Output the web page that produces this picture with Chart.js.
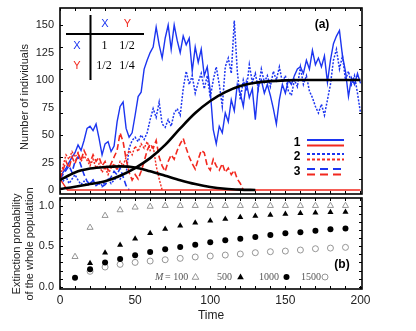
<!DOCTYPE html>
<html>
<head>
<meta charset="utf-8">
<script src="https://cdn.jsdelivr.net/npm/chart.js@4.4.0/dist/chart.umd.min.js"></script>
<style>
  html, body { margin: 0; padding: 0; background: #fff; }
  #wrap { position: relative; width: 416px; height: 331px; }
  #top { position: absolute; left: 0; top: 0; }
  #bot { position: absolute; left: 0; top: 170px; }
</style>
</head>
<body>
<div id="wrap">
  <canvas id="top" width="416" height="196" style="width:416px;height:196px"></canvas>
  <canvas id="bot" width="416" height="161" style="width:416px;height:161px"></canvas>
</div>
<script>
// time grid of the stochastic runs
const stepT = [0,2,4,6,8,10,12,14,16,18,20,22,24,26,28,30,32,34,36,38,40,42,44,46,48,50,52,54,56,58,
  60,62,64,66,68,70,72,74,76,78,80,82,84,86,88,90,92,94,96,98,100,102,104,106,108,110,112,114,116,118,
  120,122,124,126,128,130,132,134,136,138,140,142,144,146,148,150,152,154,156,158,160,162,164,166,168,170,
  172,174,176,178,180,182,184,186,188,190,192,194,196,198,200];

// run 1 (solid): X survives, Y dies at once
const x1 = [10,16,20,25,30,34,41,36,45,56, 58,54,60,47,32,42,44,35,40,62,
  76,80,56,48,52,68,85,89,110,118, 125,130,148,132,120,138,150,128,150,136,
  125,140,132,138,108,130,116,128,104,112, 90,55,42,58,52,70,62,82,72,96,
  88,76,98,84,92,64,95,100,88,96, 86,74,60,82,96,88,100,96,104,110,
  112,106,118,110,127,114,120,112,122,98, 118,133,140,145,122,108,85,102,96,106, 97];
const y1T = [0,2,4,5,200];
const y1 = [10,6,2,0,0];

// run 2 (dotted)
const x2 = [10,8,12,6,10,14,9,5,8,4, 6,9,5,8,4,7,10,6,9,12,
  10,15,14,38,45,48,44,50,46,52, 64,74,66,80,60,57,64,58,70,74,
  68,92,108,96,104,88,98,106,92,104, 84,100,112,96,76,112,120,106,154,108,
  82,100,90,114,98,106,92,110,98,104, 94,108,100,112,98,104,90,86,100,94,
  112,96,104,90,84,76,70,78,68,82, 96,118,128,110,122,100,108,96,104,88, 70];
const y2 = [10,22,32,28,35,30,34,26,31,27, 22,28,20,24,16,21,14,20,24,18,
  26,22,30,36,32,40,35,42,38,44, 36,40,22,10,0];

// run 3 (dashed): X dies first, then Y
const x3 = [10,14,18,22,16,26,30,22,14,8,5,9,4,6,3,5,8,12,17,14,20,12,4,0];
const y3 = [10,18,26,20,30,24,33,27,36,30, 25,32,26,30,22,26,18,24,30,36,
  52,44,28,16,9,14,10,17,26,36, 42,38,45,30,22,17,26,32,28,36,
  42,47,38,30,24,19,28,36,34,22, 18,28,22,18,24,16,20,14,18,10, 6,0];

// deterministic solution
const detT = [0,10,20,30,40,50,60,70,80,90,100,110,120,130,140,150,160,170,180,190,200];
const detX = [1,3,5.5,8,13,20,29,41,56,70,81,89,94.5,97.5,99,99.7,100,100,100,100,100];
const detY = [9,16,19.5,21,21.5,20.5,17,13,9,5.5,2.8,1.2,0.4,0];

// panel (b): extinction probability
const probT = [10,20,30,40,50,60,70,80,90,100,110,120,130,140,150,160,170,180,190];
const p100 = [0.37,0.73,0.877,0.947,0.98,0.99,1,1,1,1,1,1,1,1,1,1,1,1,1];
const p500 = [null,0.29,0.42,0.515,0.593,0.659,0.712,0.753,0.79,0.815,0.836,0.856,0.873,0.885,0.897,0.906,0.914,0.918,0.922];
const p1000 = [0.11,0.215,0.30,0.342,0.387,0.428,0.461,0.49,0.519,0.548,0.573,0.593,0.614,0.638,0.659,0.671,0.691,0.708,0.72];
const p1500 = [null,0.19,0.243,0.276,0.30,0.317,0.333,0.35,0.367,0.379,0.391,0.404,0.42,0.432,0.44,0.453,0.469,0.477,0.486];

const topYTicks = [0,25,50,75,100,125,150];
const botYTicks = [0,0.5,1];
const xTicks = [0,50,100,150,200];
const xMinor = [0,10,20,30,40,50,60,70,80,90,100,110,120,130,140,150,160,170,180,190,200];
const topYMinor = [10,30,50,70,90,110,130,150];
const botYMinor = [0,0.1,0.2,0.3,0.4,0.5,0.6,0.7,0.8,0.9,1];

const BLUE = '#1c35f0';
const RED = '#f2281e';
const GREY = '#8a8a8a';
const SANS = '"Liberation Sans", Arial, sans-serif';
const SERIF = '"Liberation Serif", "Times New Roman", serif';

Chart.defaults.font.family = SANS;

const pts = (ts, vs) => vs.map((v, i) => ({ x: ts[i], y: v })).filter(p => p.y !== null);

function frameAndTicks(chart, yMinor) {
  const { ctx, chartArea: a, scales } = chart;
  ctx.save();
  ctx.strokeStyle = '#000';
  ctx.lineWidth = 1;
  ctx.beginPath();
  xMinor.forEach(v => {
    const px = Math.round(scales.x.getPixelForValue(v)) + 0.5;
    ctx.moveTo(px, a.top); ctx.lineTo(px, a.top + 3);
    ctx.moveTo(px, a.bottom); ctx.lineTo(px, a.bottom - 3);
  });
  yMinor.forEach(v => {
    const py = Math.round(scales.y.getPixelForValue(v)) + 0.5;
    ctx.moveTo(a.left, py); ctx.lineTo(a.left + 3, py);
    ctx.moveTo(a.right, py); ctx.lineTo(a.right - 3, py);
  });
  ctx.stroke();
  ctx.lineWidth = 1.6;
  ctx.strokeRect(a.left, a.top, a.right - a.left, a.bottom - a.top);
  ctx.restore();
}

function sideTitle(ctx, lines, x, y) {
  ctx.save();
  ctx.translate(x, y);
  ctx.rotate(-Math.PI / 2);
  ctx.textAlign = 'center';
  ctx.textBaseline = 'middle';
  ctx.fillStyle = '#222';
  ctx.font = '11px ' + SANS;
  lines.forEach((t, i) => ctx.fillText(t, 0, i * 13.2));
  ctx.restore();
}

const topDecor = {
  id: 'topDecor',
  afterDraw(chart) {
    frameAndTicks(chart, topYMinor);
    const ctx = chart.ctx;
    sideTitle(ctx, ['Number of individuals'], 25, 97);
    ctx.save();
    // small payoff table
    ctx.strokeStyle = '#000';
    ctx.lineWidth = 2;
    ctx.beginPath();
    ctx.moveTo(90.5, 15); ctx.lineTo(90.5, 80);
    ctx.moveTo(66, 34); ctx.lineTo(144, 34);
    ctx.stroke();
    ctx.textAlign = 'center';
    ctx.textBaseline = 'middle';
    ctx.font = '11px ' + SANS;
    ctx.fillStyle = BLUE; ctx.fillText('X', 105, 23.5); ctx.fillText('X', 77, 46);
    ctx.fillStyle = RED; ctx.fillText('Y', 127.5, 23.5); ctx.fillText('Y', 77, 66);
    ctx.font = '12px ' + SERIF;
    ctx.fillStyle = '#000';
    ctx.fillText('1', 104.5, 46); ctx.fillText('1/2', 127, 46);
    ctx.fillText('1/2', 104, 66); ctx.fillText('1/4', 127, 66);
    // panel label
    ctx.font = 'bold 12px ' + SANS;
    ctx.fillText('(a)', 322, 25);
    // line style key
    const rows = [['1', []], ['2', [3, 2]], ['3', [8, 5]]];
    const ys = [140, 154, 169];
    rows.forEach((r, i) => {
      ctx.fillStyle = '#000';
      ctx.font = 'bold 12px ' + SANS;
      ctx.fillText(r[0], 297, ys[i] + 2.5);
      ctx.lineWidth = 2;
      ctx.setLineDash(r[1]);
      ctx.strokeStyle = BLUE;
      ctx.beginPath(); ctx.moveTo(307, ys[i]); ctx.lineTo(344, ys[i]); ctx.stroke();
      ctx.strokeStyle = RED;
      ctx.beginPath(); ctx.moveTo(307, ys[i] + 5.5); ctx.lineTo(344, ys[i] + 5.5); ctx.stroke();
    });
    ctx.restore();
  }
};

function triangle(ctx, x, y, r, fill) {
  ctx.beginPath();
  ctx.moveTo(x, y - r);
  ctx.lineTo(x + r * 0.95, y + r * 0.65);
  ctx.lineTo(x - r * 0.95, y + r * 0.65);
  ctx.closePath();
  if (fill) { ctx.fillStyle = '#000'; ctx.fill(); }
  else { ctx.strokeStyle = GREY; ctx.lineWidth = 0.9; ctx.stroke(); }
}
function circle(ctx, x, y, r, fill) {
  ctx.beginPath();
  ctx.arc(x, y, r, 0, Math.PI * 2);
  if (fill) { ctx.fillStyle = '#000'; ctx.fill(); }
  else { ctx.strokeStyle = GREY; ctx.lineWidth = 0.9; ctx.stroke(); }
}

// bottom canvas starts at page y = 170
const botDecor = {
  id: 'botDecor',
  afterDraw(chart) {
    frameAndTicks(chart, botYMinor);
    const ctx = chart.ctx;
    sideTitle(ctx, ['Extinction probability', 'of the whole population'], 16.5, 74);
    ctx.save();
    ctx.textBaseline = 'middle';
    ctx.textAlign = 'center';
    ctx.fillStyle = '#000';
    ctx.font = 'bold 12px ' + SANS;
    ctx.fillText('(b)', 342, 95);
    const ly = 107;
    ctx.textAlign = 'left';
    ctx.fillStyle = '#555';
    ctx.font = 'italic 10px ' + SERIF;
    ctx.fillText('M', 155, ly);
    ctx.font = '10px ' + SERIF;
    ctx.fillText('= 100', 165, ly);
    ctx.fillText('500', 217, ly);
    ctx.fillText('1000', 259, ly);
    ctx.fillText('1500', 301, ly);
    triangle(ctx, 195.5, ly, 3.5, false);
    triangle(ctx, 240.5, ly, 3.5, true);
    circle(ctx, 286.5, ly, 3, true);
    circle(ctx, 325, ly, 3, false);
    ctx.restore();
  }
};

const yTickStyle = { font: { size: 11 }, color: '#222', padding: 6 };

new Chart(document.getElementById('top'), {
  type: 'line',
  data: {
    datasets: [
      { label: 'X deterministic', data: pts(detT, detX), borderColor: '#000', borderWidth: 2.6, cubicInterpolationMode: 'monotone' },
      { label: 'Y deterministic', data: pts(detT, detY), borderColor: '#000', borderWidth: 2.6, cubicInterpolationMode: 'monotone' },
      { label: 'Y run 1', data: pts(y1T, y1), borderColor: RED, borderWidth: 1.4 },
      { label: 'Y run 3', data: pts(stepT, y3), borderColor: RED, borderWidth: 1.6, borderDash: [6, 3] },
      { label: 'Y run 2', data: pts(stepT, y2), borderColor: RED, borderWidth: 1.4, borderDash: [2, 1.5] },
      { label: 'X run 3', data: pts(stepT, x3), borderColor: BLUE, borderWidth: 1.6, borderDash: [6, 3] },
      { label: 'X run 1', data: pts(stepT, x1), borderColor: BLUE, borderWidth: 1.4 },
      { label: 'X run 2', data: pts(stepT, x2), borderColor: BLUE, borderWidth: 1.5, borderDash: [2, 1.5] }
    ]
  },
  options: {
    responsive: false,
    animation: false,
    layout: { padding: { left: 0, right: 54, top: 8, bottom: 2 } },
    elements: { point: { radius: 0 }, line: { tension: 0 } },
    plugins: { legend: { display: false }, tooltip: { enabled: false } },
    scales: {
      x: { type: 'linear', min: 0, max: 201, display: false },
      y: {
        min: -3.6, max: 165.5,
        afterBuildTicks: s => { s.ticks = topYTicks.map(v => ({ value: v })); },
        afterFit: s => { s.width = 60; s.paddingTop = 0; s.paddingBottom = 0; },
        ticks: yTickStyle,
        grid: { display: false, drawTicks: false },
        border: { display: false }
      }
    }
  },
  plugins: [topDecor]
});

new Chart(document.getElementById('bot'), {
  type: 'scatter',
  data: {
    datasets: [
      { label: 'M = 1000', data: pts(probT, p1000), pointStyle: 'circle', pointRadius: 3, backgroundColor: '#000', borderColor: '#000', borderWidth: 0 },
      { label: 'M = 500', data: pts(probT, p500), pointStyle: 'triangle', pointRadius: 3.5, backgroundColor: '#000', borderColor: '#000', borderWidth: 0 },
      { label: 'M = 1500', data: pts(probT, p1500), pointStyle: 'circle', pointRadius: 3, backgroundColor: 'rgba(0,0,0,0)', borderColor: GREY, borderWidth: 0.9 },
      { label: 'M = 100', data: pts(probT, p100), pointStyle: 'triangle', pointRadius: 3.5, backgroundColor: 'rgba(0,0,0,0)', borderColor: GREY, borderWidth: 0.9 }
    ]
  },
  options: {
    responsive: false,
    animation: false,
    layout: { padding: { left: 0, right: 54, top: 28, bottom: 0 } },
    plugins: { legend: { display: false }, tooltip: { enabled: false } },
    scales: {
      x: {
        type: 'linear', min: 0, max: 201,
        afterBuildTicks: s => { s.ticks = xTicks.map(v => ({ value: v })); },
        afterFit: s => { s.height = 42; s.paddingLeft = 0; s.paddingRight = 0; },
        ticks: { font: { size: 12 }, color: '#222', padding: 4, maxRotation: 0 },
        grid: { display: false, drawTicks: false },
        border: { display: false },
        title: { display: true, text: 'Time', font: { size: 12 }, color: '#222', padding: { top: 0, bottom: 8 } }
      },
      y: {
        min: -0.028, max: 1.095,
        afterBuildTicks: s => { s.ticks = botYTicks.map(v => ({ value: v })); },
        afterFit: s => { s.width = 60; s.paddingTop = 0; s.paddingBottom = 0; },
        ticks: Object.assign({}, yTickStyle, { callback: v => v.toFixed(1) }),
        grid: { display: false, drawTicks: false },
        border: { display: false }
      }
    }
  },
  plugins: [botDecor]
});
</script>
</body>
</html>
